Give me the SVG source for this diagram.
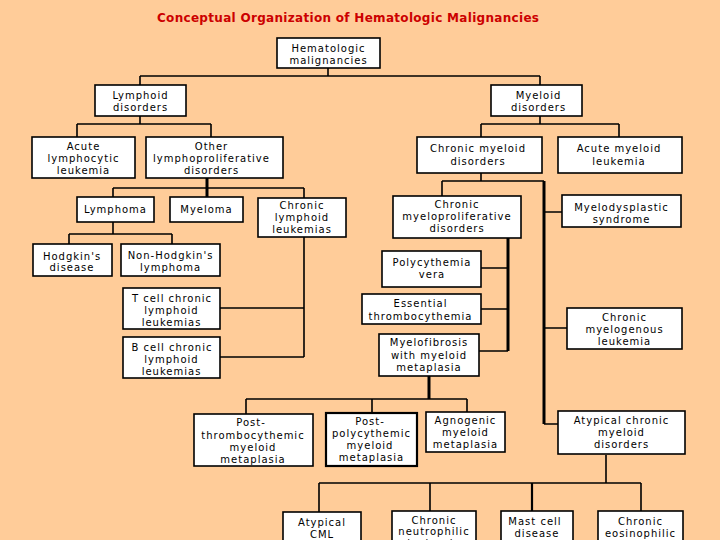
<svg xmlns="http://www.w3.org/2000/svg" width="720" height="540" viewBox="0 0 720 540">
<style>
.bg{fill:#FFCC99}
.box{fill:#FFFFFF;stroke:#000000;stroke-width:1.6}
.t{font-family:"DejaVu Sans","Liberation Sans",sans-serif;font-size:10px;letter-spacing:1px;fill:#000000;text-anchor:middle}
.title{font-family:"DejaVu Sans","Liberation Sans",sans-serif;font-size:12px;font-weight:bold;fill:#CC0000;text-anchor:start}
.c{stroke:#000000;stroke-width:1.6;fill:none}
.k{stroke:#000000;stroke-width:3;fill:none}
</style>
<rect class="bg" x="0" y="0" width="720" height="540"/>
<text class="title" x="157" y="22" textLength="382" lengthAdjust="spacing">Conceptual Organization of Hematologic Malignancies</text>

<g id="connectors">
<path class="c" d="M328,68V76M140,76H540M140,76V85M540,76V85"/>
<path class="c" d="M140,116V124M77,124H211M77,124V137M211,124V137"/>
<path class="c" d="M540,116V124M481,124H619M481,124V137M619,124V137"/>
<path class="k" d="M207,178V197"/>
<path class="c" d="M113,188H304M113,188V197M304,188V198"/>
<path class="c" d="M113,222V234M69,234H172M69,234V244M172,234V244"/>
<path class="c" d="M304,237V357M220,308H304M220,357H304"/>
<path class="c" d="M481,173V181M442,181H544M442,181V196"/>
<path class="k" d="M544,181V424"/>
<path class="c" d="M544,212H562M544,328H567M544,424H558"/>
<path class="k" d="M508,238V351"/>
<path class="c" d="M481,268H508M481,309H508M479,351H508"/>
<path class="k" d="M429,376V399"/>
<path class="c" d="M246,399H467M246,399V414M372,399V413M467,399V412"/>
<path class="c" d="M606,455V483M319,483H641M319,483V512M430,483V511M641,483V511"/>
<path class="c" d="M532,483V511" style="stroke-width:2.2"/>
</g>

<g id="n-root"><rect class="box" x="277" y="38" width="103" height="30"/>
<text class="t" x="328.5" y="51.5">Hematologic</text><text class="t" x="328.5" y="63.5">malignancies</text></g>

<g id="n-lymphoid"><rect class="box" x="95" y="85" width="91" height="31"/>
<text class="t" x="140.5" y="98.5">Lymphoid</text><text class="t" x="140.5" y="110.5">disorders</text></g>

<g id="n-myeloid"><rect class="box" x="491" y="85" width="91" height="31"/>
<text class="t" x="538.5" y="98.5">Myeloid</text><text class="t" x="538.5" y="110.5">disorders</text></g>

<g id="n-all"><rect class="box" x="32" y="137" width="103" height="41"/>
<text class="t" x="83.5" y="149.5">Acute</text><text class="t" x="83.5" y="161.5">lymphocytic</text><text class="t" x="83.5" y="173.5">leukemia</text></g>

<g id="n-other"><rect class="box" x="146" y="137" width="137" height="41"/>
<text class="t" x="211.5" y="149.5">Other</text><text class="t" x="211.5" y="161.5">lymphoproliferative</text><text class="t" x="211.5" y="173.5">disorders</text></g>

<g id="n-cmd"><rect class="box" x="417" y="137" width="125" height="36"/>
<text class="t" x="478" y="151.5">Chronic myeloid</text><text class="t" x="478" y="164.5">disorders</text></g>

<g id="n-aml"><rect class="box" x="558" y="137" width="124" height="36"/>
<text class="t" x="619" y="151.5">Acute myeloid</text><text class="t" x="619" y="164.5">leukemia</text></g>

<g id="n-lymphoma"><rect class="box" x="77" y="197" width="77" height="25"/>
<text class="t" x="115.5" y="212.5">Lymphoma</text></g>

<g id="n-myeloma"><rect class="box" x="170" y="197" width="73" height="25"/>
<text class="t" x="206.5" y="212.5">Myeloma</text></g>

<g id="n-cll"><rect class="box" x="258" y="198" width="88" height="39"/>
<text class="t" x="302" y="208.5">Chronic</text><text class="t" x="302" y="220.5">lymphoid</text><text class="t" x="302" y="232.5">leukemias</text></g>

<g id="n-cmpd"><rect class="box" x="393" y="196" width="128" height="42"/>
<text class="t" x="457" y="207.5">Chronic</text><text class="t" x="457" y="220">myeloproliferative</text><text class="t" x="457" y="231.5">disorders</text></g>

<g id="n-mds"><rect class="box" x="562" y="195" width="119" height="32"/>
<text class="t" x="621.5" y="210.5">Myelodysplastic</text><text class="t" x="621.5" y="222.5">syndrome</text></g>

<g id="n-hodgkin"><rect class="box" x="33" y="244" width="79" height="32"/>
<text class="t" x="72" y="259.5">Hodgkin's</text><text class="t" x="72" y="271">disease</text></g>

<g id="n-nhl"><rect class="box" x="121" y="244" width="99" height="32"/>
<text class="t" x="170.5" y="258.5">Non-Hodgkin's</text><text class="t" x="170.5" y="270.5">lymphoma</text></g>

<g id="n-tcell"><rect class="box" x="123" y="288" width="97" height="41"/>
<text class="t" x="172" y="301.5">T cell chronic</text><text class="t" x="171.5" y="313.5">lymphoid</text><text class="t" x="171.5" y="325.5">leukemias</text></g>

<g id="n-bcell"><rect class="box" x="123" y="337" width="97" height="41"/>
<text class="t" x="172" y="350.5">B cell chronic</text><text class="t" x="171.5" y="362.5">lymphoid</text><text class="t" x="171.5" y="374.5">leukemias</text></g>

<g id="n-pv"><rect class="box" x="382" y="251" width="99" height="36"/>
<text class="t" x="432" y="265.5">Polycythemia</text><text class="t" x="432" y="277.5">vera</text></g>

<g id="n-et"><rect class="box" x="362" y="294" width="119" height="30"/>
<text class="t" x="420.5" y="306.5">Essential</text><text class="t" x="420.5" y="319.5">thrombocythemia</text></g>

<g id="n-mf"><rect class="box" x="379" y="334" width="100" height="42"/>
<text class="t" x="429" y="345.5">Myelofibrosis</text><text class="t" x="429" y="358.5">with myeloid</text><text class="t" x="429" y="370.5">metaplasia</text></g>

<g id="n-cml"><rect class="box" x="567" y="308" width="115" height="41"/>
<text class="t" x="624.5" y="320.5">Chronic</text><text class="t" x="624.5" y="332.5">myelogenous</text><text class="t" x="624.5" y="344.5">leukemia</text></g>

<g id="n-ptmm"><rect class="box" x="194" y="414" width="119" height="52"/>
<text class="t" x="251" y="425.5">Post-</text><text class="t" x="253" y="438.5">thrombocythemic</text><text class="t" x="253" y="450.5">myeloid</text><text class="t" x="253" y="462.5">metaplasia</text></g>

<g id="n-ppmm"><rect class="box" x="326" y="413" width="91" height="53" style="stroke-width:2.2"/>
<text class="t" x="370" y="424.5">Post-</text><text class="t" x="371.5" y="436.5">polycythemic</text><text class="t" x="370" y="448.5">myeloid</text><text class="t" x="371.5" y="460.5">metaplasia</text></g>

<g id="n-amm"><rect class="box" x="426" y="412" width="79" height="40"/>
<text class="t" x="465.5" y="423.5">Agnogenic</text><text class="t" x="465.5" y="435.5">myeloid</text><text class="t" x="465.5" y="447.5">metaplasia</text></g>

<g id="n-acmd"><rect class="box" x="558" y="411" width="127" height="43"/>
<text class="t" x="621.5" y="424">Atypical chronic</text><text class="t" x="621.5" y="436">myeloid</text><text class="t" x="621.5" y="448">disorders</text></g>

<g id="n-acml"><rect class="box" x="283" y="512" width="78" height="40"/>
<text class="t" x="322" y="525.5">Atypical</text><text class="t" x="322" y="537.5">CML</text></g>

<g id="n-cnl"><rect class="box" x="392" y="511" width="84" height="40"/>
<text class="t" x="434" y="523.5">Chronic</text><text class="t" x="434" y="535">neutrophilic</text><text class="t" x="434" y="547">leukemia</text></g>

<g id="n-mast"><rect class="box" x="501" y="511" width="72" height="40"/>
<text class="t" x="535" y="524.5">Mast cell</text><text class="t" x="537" y="536.5">disease</text></g>

<g id="n-cel"><rect class="box" x="598" y="511" width="85" height="40"/>
<text class="t" x="640.5" y="524.5">Chronic</text><text class="t" x="640.5" y="536.5">eosinophilic</text></g>
</svg>
